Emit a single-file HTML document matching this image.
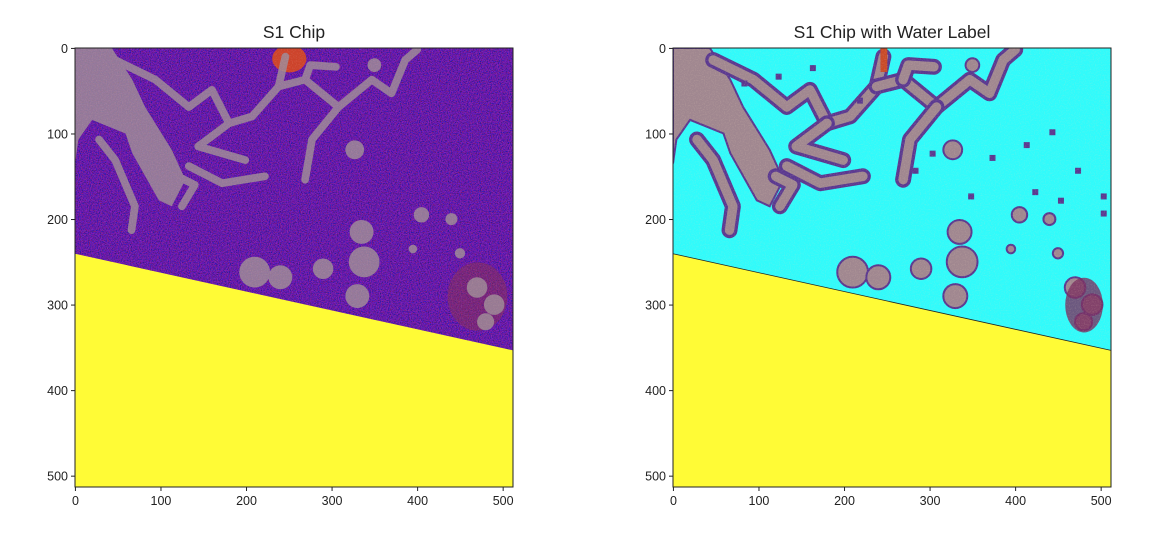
<!DOCTYPE html>
<html><head><meta charset="utf-8"><style>
html,body{margin:0;padding:0;background:#fff;width:1164px;height:548px;overflow:hidden}
svg text{font-family:"Liberation Sans","DejaVu Sans",sans-serif}
</style></head><body>
<svg id="fig" width="1164" height="548" viewBox="0 0 1164 548" xmlns="http://www.w3.org/2000/svg">
<defs>
<filter id="noise" x="0" y="0" width="100%" height="100%">
<feTurbulence type="fractalNoise" baseFrequency="0.9" numOctaves="2" seed="3" result="t"/>
<feColorMatrix in="t" type="matrix" values="1.2 0 0 0 -0.35  0 0 0 0 0  0 0 1.4 0 -0.3  0 0 0 0 0.55"/>
</filter>
<filter id="noise2" x="0" y="0" width="100%" height="100%">
<feTurbulence type="fractalNoise" baseFrequency="0.8" numOctaves="2" seed="7" result="t"/>
<feColorMatrix in="t" type="matrix" values="0 0 0 0 0.9  0 0 0 0 0.7  0 0 0 0 0.5  0 0 0 1.6 -0.75"/>
</filter>
</defs>
</svg>
<script>
const panelTitles = ["S1 Chip", "S1 Chip with Water Label"];
const xTicks = [0,100,200,300,400,500];
const yTicks = [0,100,200,300,400,500];
const extent = 512;
const boundaryLeftY = 240;
const boundaryRightY = 353;
// land features [x,y] in data coordinates
const massTopLeft = [[0,0],[43,0],[67,37],[82,69],[113,119],[129,154],[113,185],[98,178],[67,123],[59,100],[20,84],[4,107],[0,135]];
const riverPaths = [
 [[47,14],[94,37],[133,69],[160,49],[180,88],[207,80],[238,45],[246,10]],
 [[238,45],[269,37],[308,69],[347,37],[370,53],[386,14],[400,2]],
 [[269,37],[275,20],[305,22]],
 [[308,69],[277,107],[269,154]],
 [[180,88],[144,115],[199,131]],
 [[133,138],[172,158],[222,150]],
 [[28,107],[47,131],[70,185],[66,213]],
 [[120,150],[140,160],[125,185]]
];
const blobs = [[327,119,11],[210,262,18],[240,268,14],[335,215,14],[338,250,18],[330,290,14],[290,258,12],[405,195,9],[440,200,7],[450,240,6],[470,280,12],[490,300,12],[480,320,10],[350,20,8],[395,235,5]];
const smallSquares = [[80,38],[120,30],[160,20],[215,58],[300,120],[370,125],[410,110],[440,95],[470,140],[500,170],[420,165],[500,190],[345,170],[280,140],[450,175]];

const svg = document.getElementById('fig');
const NS = 'http://www.w3.org/2000/svg';
const axL = [75, 673], axT = 48, axW = 438, axH = 439;
const k = axW / extent;
function sx(v){ return (v + 0.5) * k; }
function mk(tag, attrs, parent){ const e = document.createElementNS(NS, tag); for (const a in attrs) e.setAttribute(a, attrs[a]); parent.appendChild(e); return e; }
function ptsStr(arr){ return arr.map(p => (p[0]*k).toFixed(1)+','+(p[1]*k).toFixed(1)).join(' '); }

panelTitles.forEach((title, i) => {
  const g = mk('g', {transform: `translate(${axL[i]},${axT})`}, svg);
  
  
  const cp = mk('clipPath', {id: 'clipA'+i}, g); mk('rect', {x:0,y:0,width:axW,height:axH}, cp);
  const img = mk('g', {'clip-path': 'url(#clipA'+i+')'}, g);
  
  
  const water = i === 0 ? '#3c34a8' : '#30fbfb';
  mk('rect', {x:0,y:0,width:axW,height:axH,fill:water}, img);
  if (i === 0) {
    mk('rect', {x:0,y:0,width:axW,height:axH,filter:'url(#noise)'}, img);
    mk('ellipse', {cx:sx(250),cy:sx(12),rx:20*k,ry:16*k,fill:'#d8481e',opacity:0.9}, img);
    mk('ellipse', {cx:sx(470),cy:sx(290),rx:35*k,ry:40*k,fill:'#8a3050',opacity:0.5}, img);
  }
  const landFill = i === 0 ? '#9e8a98' : '#a08790';
  const edge = i === 0 ? '#9e8a98' : '#5a3890';
  const sw = i === 0 ? 0 : 2;
  const land = mk('g', {opacity: i===0?0.85:1}, img);
  
  
  mk('polygon', {points: ptsStr(massTopLeft), fill: landFill, stroke: edge, 'stroke-width': sw}, land);
  riverPaths.forEach(p => {
    if (i === 1) mk('polyline', {points: ptsStr(p), fill:'none', stroke: edge, 'stroke-width': 14*k+sw*2, 'stroke-linejoin':'round','stroke-linecap':'round'}, land);
    mk('polyline', {points: ptsStr(p), fill:'none', stroke: landFill, 'stroke-width': (i===0?9:11)*k, 'stroke-linejoin':'round','stroke-linecap':'round'}, land);
  });
  blobs.forEach(b => mk('circle', {cx:b[0]*k, cy:b[1]*k, r:b[2]*k, fill: landFill, stroke: edge, 'stroke-width': sw}, land));
  if (i === 1) {
    smallSquares.forEach(s => mk('rect', {x:s[0]*k, y:s[1]*k, width:7*k, height:7*k, fill:'#5a3890'}, land));
    mk('ellipse', {cx:sx(480),cy:sx(300),rx:22*k,ry:32*k,fill:'#7a3060',opacity:0.8}, land);
    mk('rect', {x:sx(242), y:0, width:8*k, height:28*k, fill:'#c84a28'}, land);
  }
  mk('rect', {x:0,y:0,width:axW,height:axH,filter:'url(#noise2)',opacity:0.3}, land);
  const poly = mk('polygon', {points: `0,${sx(boundaryLeftY)} ${axW},${sx(boundaryRightY)} ${axW},${axH} 0,${axH}`, fill:'#fffb36', stroke: i===1?'#222':'none', 'stroke-width':0.8}, img);
  
  
  const frame = mk('rect', {x:0,y:0,width:axW,height:axH,fill:'none',stroke:'#222','stroke-width':1}, g);
  
  
  const t = mk('text', {x:axW/2, y:-10, 'text-anchor':'middle','font-size':'17.5', fill:'#222'}, g);
  t.textContent = title;
  
  
  xTicks.forEach(v => {
    mk('line', {x1:sx(v),x2:sx(v),y1:axH,y2:axH+4,stroke:'#222','stroke-width':1}, g);
    const l = mk('text', {x:sx(v), y:axH+18, 'text-anchor':'middle','font-size':'12.5',fill:'#222'}, g);
    l.textContent = v;
    
    
  });
  yTicks.forEach(v => {
    mk('line', {x1:-4,x2:0,y1:sx(v),y2:sx(v),stroke:'#222','stroke-width':1}, g);
    const l = mk('text', {x:-7, y:sx(v)+4.5, 'text-anchor':'end','font-size':'12.5',fill:'#222'}, g);
    l.textContent = v;
    
    
  });
});
</script>
</body></html>
